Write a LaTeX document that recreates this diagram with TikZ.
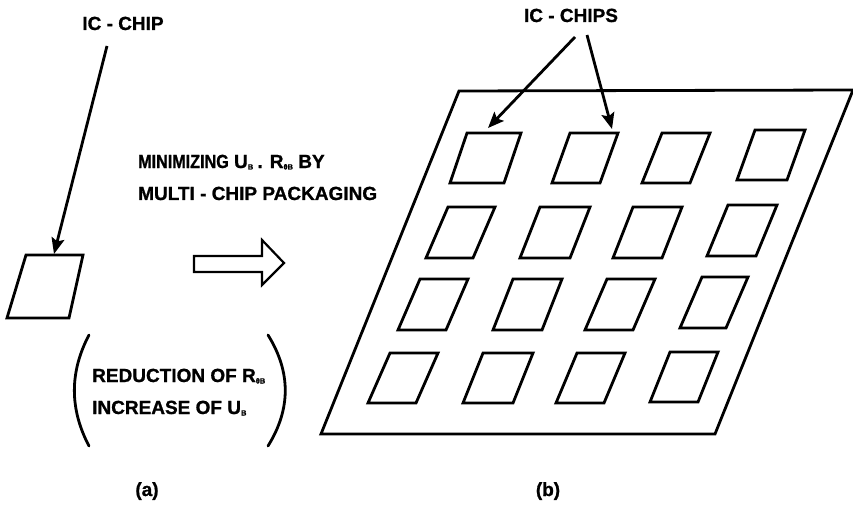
\documentclass[tikz,border=0pt]{standalone}
\usepackage{fontspec}
\setmainfont{Liberation Sans}[BoldFeatures={FakeBold=1}]
\newfontfamily\narrowbold{Liberation Sans Bold}[FakeStretch=0.85, FakeBold=1]
\usetikzlibrary{arrows.meta}
\newcommand\sbs[1]{\raisebox{-1.5pt}{\fontsize{7.5}{7.5}\selectfont #1}}
\begin{document}
\begin{tikzpicture}[x=1pt,y=-1pt,
  txt/.style={font=\fontsize{19}{19}\selectfont\bfseries, inner sep=0pt},
  outline/.style={line width=2.8pt, line join=miter},
  arr/.style={line width=2.8pt, -{Stealth[length=16pt,width=13pt,inset=3pt]}},
  paren/.style={line width=2.8pt, line cap=round}]
\useasboundingbox (0,0) rectangle (853,513);

% labels
\node[txt, anchor=base] (lblA) at (123,30) {IC - CHIP};
\node[txt, anchor=base] (lblB) at (571,22) {IC - CHIPS};
\node[txt, anchor=base west] (min) at (138,168) {{\narrowbold MINIMIZING} U\sbs{B}\hspace{-1pt} . R\sbs{θB} BY};
\node[txt, anchor=base west] (mul) at (138,200) {MULTI - CHIP PACKAGING};
\node[txt, anchor=base west] (red) at (92,382) {REDUCTION OF R\sbs{θB}};
\node[txt, anchor=base west] (inc) at (92,414) {INCREASE OF U\sbs{B}};
\node[txt, anchor=base] (capa) at (147,496) {(a)};
\node[txt, anchor=base] (capb) at (548,496) {(b)};

% single chip
\draw[outline] (26,255) -- (83,255) -- (69,318) -- (7,318) -- cycle;
\coordinate (chipA) at (54,254);
\coordinate (sA) at (107,46);
\draw[arr] (sA) -- (chipA);

% parentheses
\draw[paren] (89,335) .. controls (69.5,372) and (69.5,409) .. (89,446);
\draw[paren] (268,335) .. controls (291,372) and (291,409) .. (268,446);

% hollow arrow
\draw[line width=2.2pt, line join=miter] (194,256) -- (262,256) -- (262,240) -- (284,263) -- (262,285) -- (262,272) -- (194,272) -- cycle;

% board
\draw[outline] (459,91) -- (853,90) -- (715,434) -- (321,434) -- cycle;

% chips on board
\foreach \x/\y/\s/\w/\h in {
  467/133/17/54/50, 570/133/18/48/50, 662/133/20/48/50, 755/130/18/50/50,
  448/207/22/47/51, 540/207/20/50/51, 633/207/20/49/51, 728/205/21/49/51,
  420/279/22/48/51, 513/279/20/49/51, 607/279/22/48/51, 702/277/22/46/51,
  390/353/22/48/50, 483/353/20/50/50, 577/353/21/48/50, 670/352/20/48/50}
  \draw[outline] (\x,\y) -- ++(\w,0) -- ++(-\s,\h) -- ++(-\w,0) -- cycle;

\coordinate (sB1) at (575,37);
\coordinate (sB2) at (587,35);
\coordinate (tB1) at (488,128);
\coordinate (tB2) at (612,129);
\draw[arr] (sB1) -- (tB1);
\draw[arr] (sB2) -- (tB2);
\end{tikzpicture}
\end{document}
